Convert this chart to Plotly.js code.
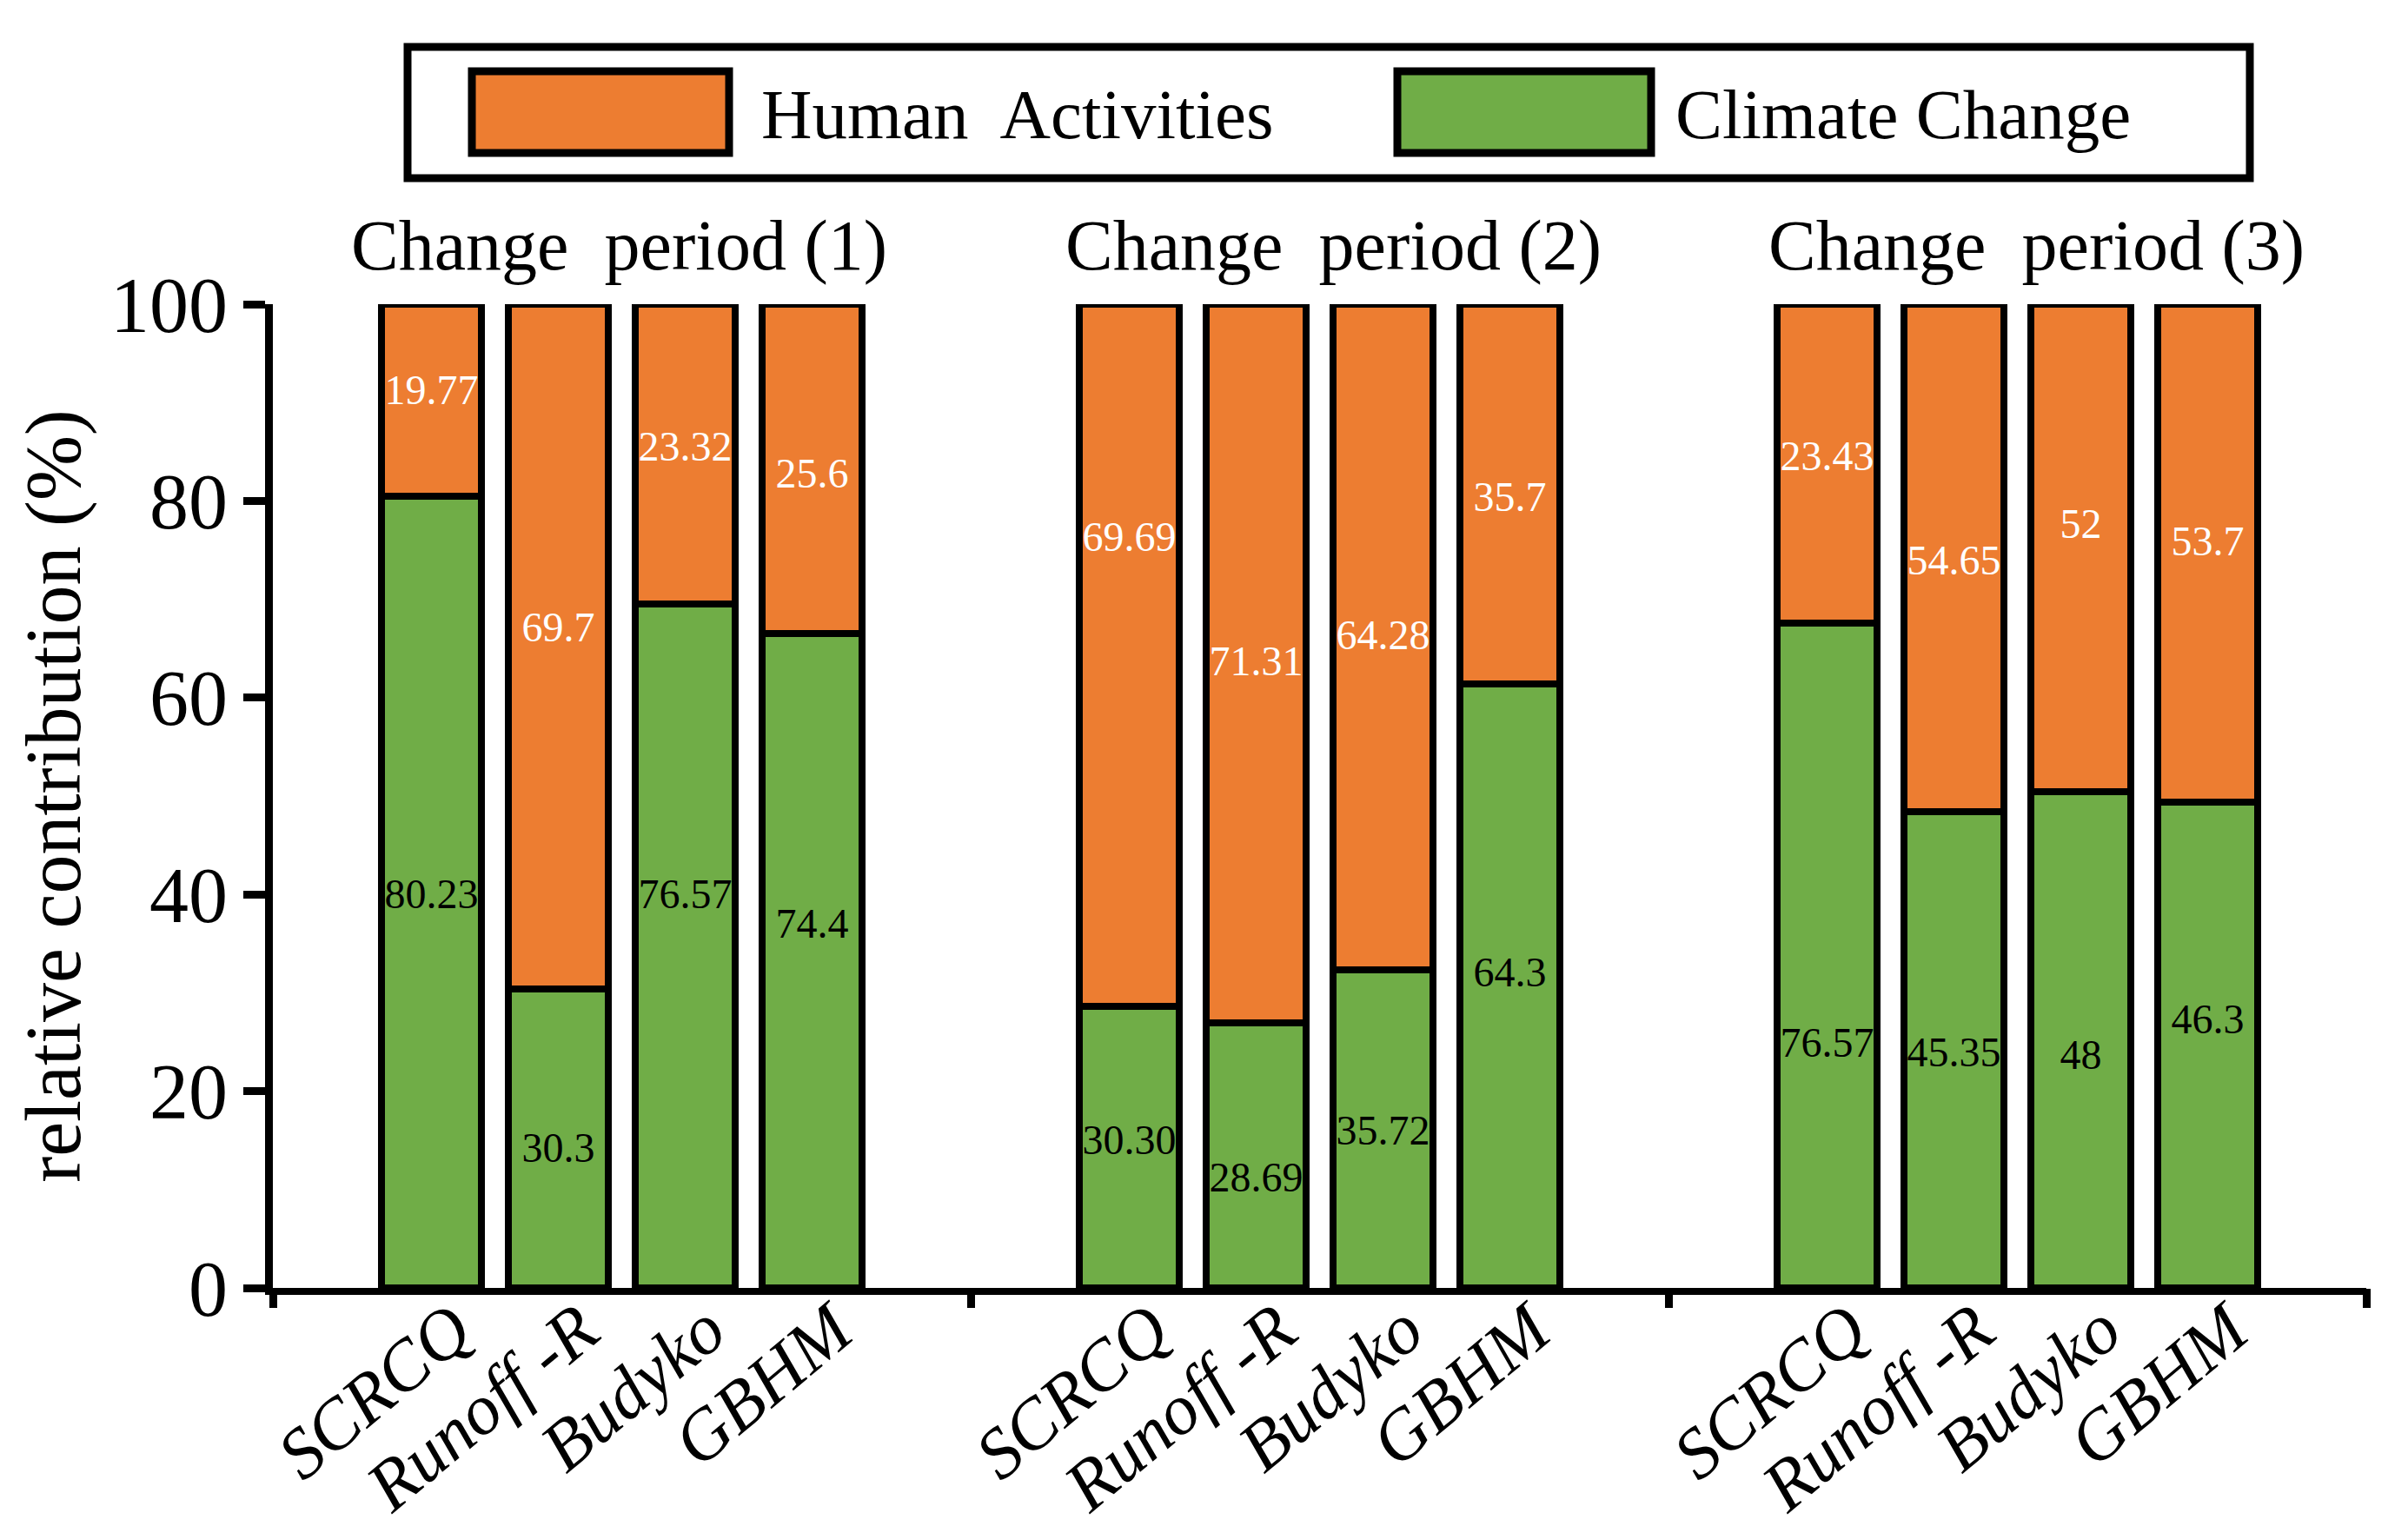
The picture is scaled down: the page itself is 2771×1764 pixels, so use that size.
<!DOCTYPE html>
<html>
<head>
<meta charset="utf-8">
<script src="https://cdn.plot.ly/plotly-3.0.1.min.js"></script>
<style>html,body{margin:0;padding:0;background:#ffffff;}</style>
</head>
<body>
<div id="chart" style="width:2771px;height:1764px;"></div>
<script>
// ---- data ----
const periods = ['Change\u00a0 period (1)', 'Change\u00a0 period (2)', 'Change\u00a0 period (3)'];
const methods = ['SCRCQ', 'Runoff -R', 'Budyko', 'GBHM'];
const seriesNames = ['Human\u00a0 Activities', 'Climate Change'];
// bar segment heights as drawn (%), order: period1 x4, period2 x4, period3 x4
const climateBar = [80.5, 30.4, 69.5, 66.5, 28.6, 26.9, 32.3, 61.4, 67.6, 48.4, 50.4, 49.4];
const humanBar   = [19.5, 69.6, 30.5, 33.5, 71.4, 73.1, 67.7, 38.6, 32.4, 51.6, 49.6, 50.6];
// value labels printed on the bars
const climateLabels = ['80.23', '30.3', '76.57', '74.4', '30.30', '28.69', '35.72', '64.3', '76.57', '45.35', '48', '46.3'];
const humanLabels   = ['19.77', '69.7', '23.32', '25.6', '69.69', '71.31', '64.28', '35.7', '23.43', '54.65', '52', '53.7'];
// heights (%) at which the printed labels sit
const climateLabelY = [39.7, 13.9, 39.7, 36.7, 14.7, 10.9, 15.6, 31.7, 24.6, 23.6, 23.3, 26.9];
const humanLabelY   = [90.9, 66.8, 85.2, 82.4, 76.0, 63.3, 66.0, 80.0, 84.2, 73.6, 77.3, 75.5];
const yTicks = [0, 20, 40, 60, 80, 100];

// ---- layout helpers ----
const W = 2771, H = 1764;
const mL = 314, mR = 48, mT = 350, mB = 282;
const plotW = W - mL - mR, plotH = H - mT - mB;
const px2x = p => (p - mL) / plotW;
const px2y = p => (H - mB - p) / plotH;

const groupWidth = 5.5;
const barX = [];
const tickText = [];
periods.forEach((p, g) => {
  methods.forEach((m, k) => {
    barX.push(g * groupWidth + 1.25 + k);
    tickText.push('<i>' + m + '</i>');
  });
});
const groupEdges = periods.map((p, g) => g * groupWidth).concat([periods.length * groupWidth]);
const xMax = periods.length * groupWidth;

const ORANGE = '#ED7D31', GREEN = '#70AD47';
const FONT = 'Liberation Serif, Times New Roman, serif';

const traces = [
  {
    type: 'bar', name: seriesNames[1], x: barX, y: climateBar, width: 0.79,
    marker: {color: GREEN, line: {color: '#000', width: 8}},
    hoverinfo: 'skip', showlegend: false
  },
  {
    type: 'bar', name: seriesNames[0], x: barX, y: humanBar, width: 0.79,
    marker: {color: ORANGE, line: {color: '#000', width: 8}},
    hoverinfo: 'skip', showlegend: false
  },
  {
    type: 'scatter', mode: 'text', x: barX, y: climateLabelY, text: climateLabels,
    textposition: 'middle center', textfont: {family: FONT, size: 48, color: '#000'},
    hoverinfo: 'skip', showlegend: false
  },
  {
    type: 'scatter', mode: 'text', x: barX, y: humanLabelY, text: humanLabels,
    textposition: 'middle center', textfont: {family: FONT, size: 48, color: '#fff'},
    hoverinfo: 'skip', showlegend: false
  },
  {
    type: 'scatter', mode: 'markers', x: [0], y: [null], xaxis: 'x2', yaxis: 'y',
    hoverinfo: 'skip', showlegend: false
  }
];

const titleX = [2.73, 8.36, 13.9];
const annotations = periods.map((p, g) => ({
  text: p, x: titleX[g], xref: 'x', y: px2y(282), yref: 'paper',
  xanchor: 'center', yanchor: 'middle', showarrow: false,
  font: {family: FONT, size: 82, color: '#000'}
}));
annotations.push({
  text: seriesNames[0], x: px2x(874), xref: 'paper', y: px2y(132), yref: 'paper',
  xanchor: 'left', yanchor: 'middle', showarrow: false,
  font: {family: FONT, size: 81, color: '#000'}
});
annotations.push({
  text: seriesNames[1], x: px2x(1926), xref: 'paper', y: px2y(132), yref: 'paper',
  xanchor: 'left', yanchor: 'middle', showarrow: false,
  font: {family: FONT, size: 81, color: '#000'}
});

const shapes = [
  {type: 'rect', xref: 'paper', yref: 'paper', x0: px2x(469), x1: px2x(2589), y0: px2y(54), y1: px2y(205),
   line: {color: '#000', width: 9}, fillcolor: 'rgba(0,0,0,0)'},
  {type: 'rect', xref: 'paper', yref: 'paper', x0: px2x(543), x1: px2x(839), y0: px2y(82), y1: px2y(176),
   line: {color: '#000', width: 9}, fillcolor: ORANGE},
  {type: 'rect', xref: 'paper', yref: 'paper', x0: px2x(1608), x1: px2x(1900), y0: px2y(82), y1: px2y(176),
   line: {color: '#000', width: 9}, fillcolor: GREEN}
];

const layout = {
  width: W, height: H,
  margin: {l: mL, r: mR, t: mT, b: mB, pad: 0},
  paper_bgcolor: '#fff', plot_bgcolor: '#fff',
  barmode: 'stack',
  showlegend: false,
  font: {family: FONT, color: '#000'},
  xaxis: {
    range: [0, xMax], tickmode: 'array', tickvals: barX, ticktext: tickText,
    tickangle: -40, tickfont: {family: FONT, size: 82, color: '#000'},
    ticklabelstandoff: -40, ticklabelshift: 25,
    ticks: '', showline: true, linecolor: '#000', linewidth: 8,
    showgrid: false, zeroline: false, fixedrange: true, automargin: false
  },
  xaxis2: {
    overlaying: 'x', anchor: 'y', side: 'bottom', range: [0, xMax],
    tickmode: 'array', tickvals: groupEdges, ticks: 'outside', ticklen: 22, tickwidth: 9, tickcolor: '#000',
    showticklabels: false, showline: false, showgrid: false, zeroline: false, fixedrange: true
  },
  yaxis: {
    range: [0, 100], tickmode: 'array', tickvals: yTicks,
    ticks: 'outside', ticklen: 25, tickwidth: 9, tickcolor: '#000',
    tickfont: {family: FONT, size: 90, color: '#000'},
    showline: true, linecolor: '#000', linewidth: 9,
    showgrid: false, zeroline: false, fixedrange: true, automargin: false,
    title: {text: 'relative contribution (%)', font: {family: FONT, size: 90, color: '#000'}, standoff: 8}
  },
  annotations: annotations,
  shapes: shapes
};

Plotly.newPlot('chart', traces, layout, {displayModeBar: false, staticPlot: true});
</script>
</body>
</html>
